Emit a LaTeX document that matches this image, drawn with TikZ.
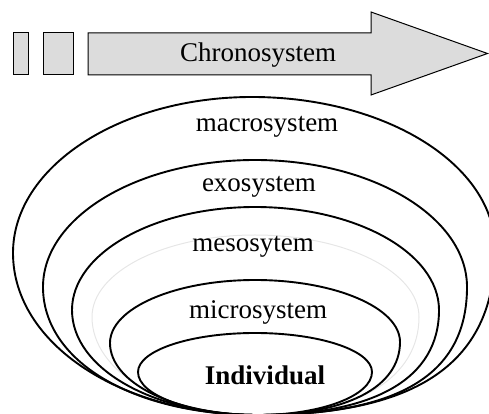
\documentclass[tikz,border=0pt]{standalone}
\usepackage{fontspec}
\setmainfont{Liberation Serif}
\definecolor{boxfill}{HTML}{DCDCDC}
\definecolor{faint}{HTML}{E6E6E6}
\def\bx{258}\def\by{-1}
% #1 style, (#2,#3) left extreme, (#4,#5) top, (#6,#7) right extreme,
% #8 / #9 fullness of the lower left / lower right quarter
\newcommand\eggring[9]{%
  \draw[#1] (\bx,\by)
    .. controls ({\bx-#8*(\bx-#2)},\by) and (#2,{#3-#8*(#3-\by)}) .. (#2,#3)
    .. controls (#2,{#3+0.552*(#5-#3)}) and ({#4-0.552*(#4-#2)},#5) .. (#4,#5)
    .. controls ({#4+0.552*(#6-#4)},#5) and (#6,{#7+0.552*(#5-#7)}) .. (#6,#7)
    .. controls (#6,{#7-#9*(#7-\by)}) and ({\bx+#9*(#6-\bx)},\by) .. (\bx,\by) -- cycle;}
\begin{document}
\begin{tikzpicture}[x=1pt,y=1pt,
  chrono/.style={draw=black,line width=1pt,fill=boxfill,line join=miter},
  ring/.style={draw=black,line width=1.9pt},
  faintring/.style={draw=faint,line width=1pt},
  lbl/.style={font=\fontsize{27}{29}\selectfont,inner sep=0pt,anchor=center},
  boldlbl/.style={lbl,font=\fontsize{27}{29}\selectfont\bfseries}]
\useasboundingbox (0,0) rectangle (489,414);
% chronosystem arrow
\path[chrono] (13,381) rectangle (28,339);
\path[chrono] (43,381) rectangle (73,339);
\path[chrono] (88,381) -- (371,381) -- (371,402) -- (487.5,360.5) -- (371,319) -- (371,339) -- (88,339) -- cycle;
\node[lbl] (chrono) at (258,359) {Chronosystem};
% nested systems, all touching at the bottom
\eggring{faintring}{92}{97}{255}{179}{419}{97}{0.56}{0.62}
\eggring{ring}{13}{161}{252}{317}{495}{165}{0.56}{0.68}
\eggring{ring}{43}{127}{255}{254}{467}{127}{0.58}{0.68}
\eggring{ring}{72}{104}{255}{207}{439}{104}{0.56}{0.65}
\eggring{ring}{110}{71}{255}{134}{400}{72}{0.56}{0.62}
\eggring{ring}{138}{42}{255}{81}{372}{42}{0.552}{0.552}
\node[lbl] (macro) at (267,287) {macrosystem};
\node[lbl] (exo) at (259,227) {exosystem};
\node[lbl] (meso) at (253,167) {mesosytem};
\node[lbl] (micro) at (258,102) {microsystem};
\node[boldlbl] (indiv) at (265,39) {Individual};
\end{tikzpicture}
\end{document}
